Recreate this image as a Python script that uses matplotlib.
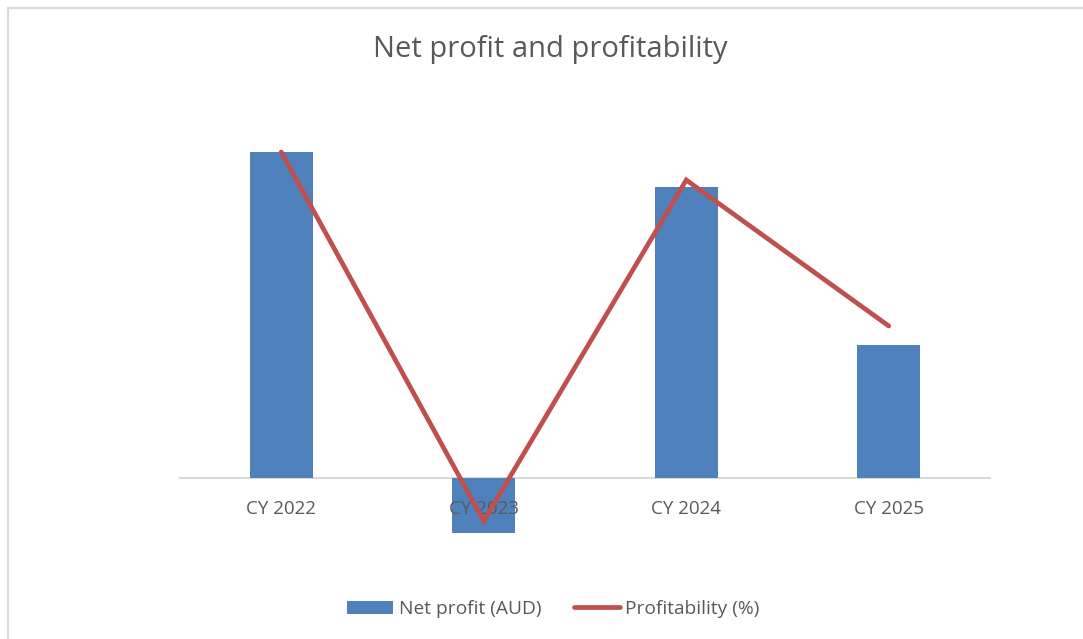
import matplotlib
matplotlib.use("Agg")
import matplotlib.pyplot as plt
from matplotlib.patches import Rectangle

categories = ["CY 2022", "CY 2023", "CY 2024", "CY 2025"]
net_profit = [326000, -55000, 291000, 133000]      # AUD
profitability = [32.6, -4.3, 29.8, 15.2]          # %

BAR = "#4F81BD"
LINE = "#C0504D"
TXT = "#595959"
GRID = "#D9D9D9"

plt.rcParams['font.family'] = ['Open Sans', 'DejaVu Sans']

W, H = 1083, 639
fig = plt.figure(figsize=(W / 100, H / 100), dpi=100)
fig.patch.set_facecolor("white")

# outer chart border (cropped on right and bottom)
fig.add_artist(Rectangle((8 / W, -0.2), 1.2, 1.2 - 8 / H,
                         transform=fig.transFigure, fill=False,
                         edgecolor=GRID, lw=1.5, clip_on=False))

left, right = 180 / W, 990 / W
top_px, bot_px = 130, 560
ax = fig.add_axes([left, 1 - bot_px / H, right - left, (bot_px - top_px) / H])
x = list(range(len(categories)))
bars = ax.bar(x, net_profit, width=0.31, color=BAR, label="Net profit (AUD)", zorder=2)
ax.set_xlim(-0.5, 3.5)
ax.set_ylim(-82000, 348000)
for s in ["top", "right", "left"]:
    ax.spines[s].set_visible(False)
ax.spines["bottom"].set_position(("data", 0))
ax.spines["bottom"].set_color(GRID)
ax.spines["bottom"].set_linewidth(1.5)
ax.spines["bottom"].set_zorder(1)
ax.set_yticks([])
ax.set_xticks(x)
ax.set_xticklabels(categories, color=TXT, fontsize=13.5)
ax.tick_params(axis="x", length=0, pad=16)
ax.xaxis.set_zorder(3)

ax2 = ax.twinx()
ax2.set_ylim(-8.2, 34.8)
line, = ax2.plot(x, profitability, color=LINE, lw=3.4, solid_capstyle="round",
                 solid_joinstyle="miter", label="Profitability (%)")
for s in ax2.spines.values():
    s.set_visible(False)
ax2.set_yticks([])

fig.text(550 / W, 1 - 50 / H, "Net profit and profitability", ha="center", va="center",
         fontsize=21, color=TXT)

leg = fig.legend(handles=[bars, line], labels=["Net profit (AUD)", "Profitability (%)"],
                 loc="center", bbox_to_anchor=(553.5 / W, 1 - 609 / H), ncol=2, frameon=False,
                 fontsize=13.8, labelcolor=TXT, handlelength=2.4, handletextpad=0.3,
                 columnspacing=1.67)

fig.savefig("out.png", dpi=100, facecolor="white")
